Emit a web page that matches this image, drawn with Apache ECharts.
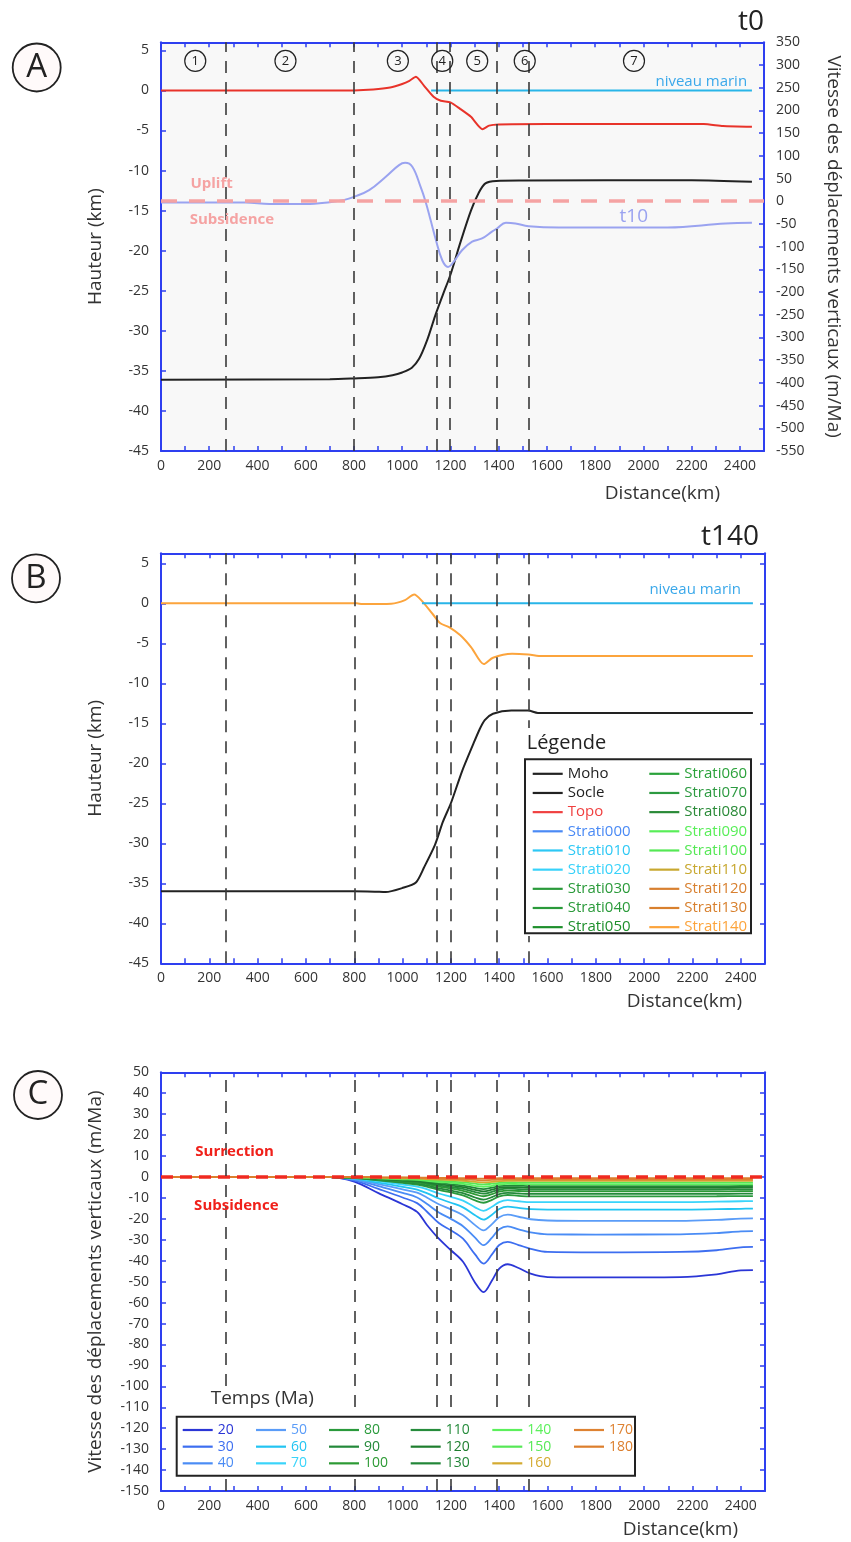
<!DOCTYPE html>
<html><head><meta charset="utf-8">
<script src="https://cdn.jsdelivr.net/npm/echarts@6/dist/echarts.min.js"></script>
<style>html,body{margin:0;padding:0;background:#fff}#c{width:851px;height:1542px}</style>
</head><body><div id="c"></div>
<script>
// ================= DATA =================
const boundaries = [270, 800, 1143, 1198, 1390, 1523];
const zoneLabels = ['1', '2', '3', '4', '5', '6', '7'];
const zoneX = [142, 516, 982, 1166, 1311, 1508, 1961];

// Panel A (t0) - heights in km
const topoAX = [0, 800, 880, 950, 1000, 1030, 1057, 1090, 1130, 1160, 1200, 1240, 1285, 1333, 1360, 1400, 1600, 2250, 2330, 2450];
const topoAY = [0, 0, 0.1, 0.35, 0.8, 1.2, 1.7, 0.6, -0.8, -1.3, -1.5, -2.3, -3.3, -4.85, -4.4, -4.25, -4.2, -4.2, -4.45, -4.55];
const mohoAX = [0, 700, 800, 900, 960, 1000, 1040, 1070, 1103, 1137, 1170, 1200, 1241, 1285, 1317, 1345, 1390, 1500, 2200, 2450];
const mohoAY = [-36.1, -36.05, -35.95, -35.8, -35.55, -35.2, -34.6, -33.5, -31.2, -28.1, -25.4, -23, -19, -15, -12.8, -11.6, -11.3, -11.25, -11.2, -11.4];
const seaAX = [1120, 2450];
const seaAY = [0, 0];
// Panel A - vertical velocity t10 (m/Ma, right axis)
const t10X = [0, 350, 450, 600, 700, 760, 800, 863, 932, 987, 1012, 1042, 1076, 1097, 1118, 1138, 1166, 1190, 1214, 1248, 1290, 1331, 1372, 1393, 1430, 1469, 1524, 1650, 2100, 2340, 2450];
const t10Y = [-3, -3, -6, -6, -2, 3, 9.7, 24.5, 54, 79.6, 84.6, 76, 32, -1, -42, -82, -130, -144.6, -133, -108, -89, -82, -67, -60, -47.5, -49, -55, -58, -57.7, -49, -47.6];

// Panel B (t140)
const strati140X = [0, 810, 833, 953, 1010, 1048, 1077, 1126, 1156, 1194, 1239, 1284, 1336, 1374, 1453, 1521, 1577, 2450];
const strati140Y = [0, 0, -0.1, -0.05, 0.4, 1.1, 0.4, -1.4, -2.5, -3.0, -4.0, -5.5, -7.6, -6.8, -6.3, -6.4, -6.6, -6.6];
const mohoBX = [0, 795, 885, 930, 998, 1055, 1089, 1134, 1167, 1201, 1246, 1291, 1318, 1340, 1374, 1450, 1520, 1560, 2450];
const mohoBY = [-36, -36, -36.05, -36.1, -35.6, -34.9, -33, -30.2, -27.3, -24.9, -21, -17.7, -15.8, -14.6, -13.8, -13.4, -13.4, -13.7, -13.7];
const seaBX = [1080, 2450];
const seaBY = [0, 0];
const legendBNames1 = ['Moho', 'Socle', 'Topo', 'Strati000', 'Strati010', 'Strati020', 'Strati030', 'Strati040', 'Strati050'];
const legendBColors1 = ['#222222', '#222222', '#f04040', '#4a8af5', '#2dc8f5', '#38d2fa', '#2a9a3a', '#2a9a3a', '#1e8f2c'];
const legendBNames2 = ['Strati060', 'Strati070', 'Strati080', 'Strati090', 'Strati100', 'Strati110', 'Strati120', 'Strati130', 'Strati140'];
const legendBColors2 = ['#2aa23a', '#2c9a40', '#2a8a38', '#58ee58', '#55e855', '#c8a830', '#d88030', '#d8802e', '#fca43c'];

// Panel C - vertical velocities (m/Ma) per time (Ma)
const velX = [0, 700, 800, 900, 1000, 1060, 1100, 1150, 1200, 1250, 1300, 1335, 1370, 1400, 1435, 1480, 1530, 1600, 1800, 2150, 2300, 2400, 2450];
const v20  = [0, 0, -2.2, -7.7, -13, -16.7, -22.8, -29.5, -35, -40.5, -50.5, -55, -49.5, -43.8, -41.7, -43.5, -46.2, -47.8, -48, -47.8, -46.5, -44.6, -44.5];
const v30  = [0, 0, -1.7, -5.7, -9.8, -12.5, -16.5, -22, -25.5, -29.5, -37, -41.4, -37, -32.5, -31, -32.5, -34.3, -35.8, -36, -35.8, -35, -33.6, -33.4];
const v40  = [0, 0, -1.3, -4.4, -7.6, -9.8, -12.8, -17, -20, -23.5, -29, -32.6, -29, -25, -23.6, -25, -26.5, -27.4, -27.5, -27.4, -26.8, -26, -25.9];
const v50  = [0, 0, -1, -3.4, -5.9, -7.5, -9.8, -13, -15.5, -18.3, -23, -25.5, -22.5, -19.2, -18, -19, -20.2, -20.8, -21, -21, -20.5, -19.9, -19.8];
const v60  = [0, 0, -0.8, -2.7, -4.7, -6, -7.7, -10.3, -12.3, -14.5, -18.3, -20.4, -18, -15.3, -14.2, -14.8, -15.4, -15.6, -15.6, -15.6, -15.4, -15.2, -15.1];
const v70  = [0, 0, -0.6, -2, -3.6, -4.6, -5.8, -7.9, -9.5, -11.3, -14.5, -16.2, -14.2, -12, -11.1, -11.6, -12, -12, -12, -12, -11.8, -11.6, -11.5];
const v80  = [0, 0, -0.5, -1.6, -2.8, -3.6, -4.6, -6.2, -7.4, -8.8, -11.2, -12.3, -10.9, -9.3, -8.6, -9, -9.3, -9.3, -9.3, -9.3, -9.2, -9.1, -9.1];
const v90  = [0, 0, -0.4, -1.4, -2.5, -3.2, -4, -5.4, -6.5, -7.7, -9.8, -10.8, -9.6, -8.2, -7.6, -7.9, -8.1, -8.1, -8.1, -8.1, -8.1, -8, -8];
const v100 = [0, 0, -0.35, -1.2, -2.1, -2.7, -3.4, -4.6, -5.5, -6.6, -8.3, -9.2, -8.2, -7, -6.5, -6.7, -6.9, -6.9, -6.9, -6.9, -6.9, -6.8, -6.8];
const v110 = [0, 0, -0.3, -1, -1.8, -2.3, -3, -4, -4.8, -5.7, -7.2, -8, -7.1, -6.1, -5.6, -5.8, -6, -6, -6, -6, -6, -5.9, -5.9];
const v120 = [0, 0, -0.25, -0.9, -1.6, -2, -2.6, -3.4, -4.1, -4.9, -6.2, -6.9, -6.1, -5.2, -4.9, -5, -5.2, -5.2, -5.2, -5.2, -5.2, -5.1, -5.1];
const v130 = [0, 0, -0.2, -0.75, -1.3, -1.7, -2.2, -2.9, -3.5, -4.1, -5.2, -5.8, -5.1, -4.4, -4.1, -4.2, -4.4, -4.4, -4.4, -4.4, -4.4, -4.3, -4.3];
const v140 = [0, 0, -0.15, -0.6, -1.1, -1.4, -1.8, -2.4, -2.8, -3.3, -4.2, -4.7, -4.2, -3.6, -3.3, -3.4, -3.5, -3.5, -3.5, -3.5, -3.5, -3.5, -3.5];
const v150 = [0, 0, -0.1, -0.5, -0.8, -1, -1.4, -1.8, -2.2, -2.6, -3.2, -3.6, -3.2, -2.8, -2.6, -2.7, -2.7, -2.7, -2.7, -2.7, -2.7, -2.7, -2.7];
const v160 = [0, 0, -0.1, -0.35, -0.6, -0.7, -1, -1.3, -1.5, -1.8, -2.3, -2.6, -2.3, -2, -1.8, -1.9, -1.9, -1.9, -1.9, -1.9, -1.9, -1.9, -1.9];
const v170 = [0, 0, 0, -0.2, -0.35, -0.45, -0.6, -0.8, -1, -1.1, -1.4, -1.6, -1.4, -1.25, -1.15, -1.2, -1.2, -1.2, -1.2, -1.2, -1.2, -1.2, -1.2];
const v180 = [0, 0, 0, -0.1, -0.2, -0.25, -0.3, -0.4, -0.5, -0.55, -0.7, -0.8, -0.7, -0.62, -0.58, -0.6, -0.6, -0.6, -0.6, -0.6, -0.6, -0.6, -0.6];
const timeLabels = ['20', '30', '40', '50', '60', '70', '80', '90', '100', '110', '120', '130', '140', '150', '160', '170', '180'];
const timeValues = [v20, v30, v40, v50, v60, v70, v80, v90, v100, v110, v120, v130, v140, v150, v160, v170, v180];
const timeColors = ['#2b36d6', '#3d6ef0', '#4a8cf5', '#5a9cf8', '#22c4f2', '#3ad4fa', '#2a9a3c', '#23893a', '#2c9a34', '#268c3c', '#1e7e2e', '#228638', '#5cf05c', '#56e856', '#d4aa30', '#de8232', '#dc7e2c'];

// ================= STYLE / BUILD =================
const BLUE = '#2e3ff0';
const TXT = '#333333';
const FONT = "'Open Sans', 'Liberation Sans', sans-serif";
const pairs = (xs, ys) => xs.map((x, i) => [x, ys[i]]);

function xAxesFor(gi, nameGap, namePad) {
  const base = {
    gridIndex: gi, type: 'value', min: 0, max: 2500, interval: 100,
    axisLine: { show: true, onZero: false, lineStyle: { color: BLUE, width: 2 } },
    axisTick: { show: true, inside: true, length: 5, lineStyle: { color: BLUE, width: 1.5 } },
    splitLine: { show: false }
  };
  return [
    Object.assign({}, base, {
      position: 'bottom',
      axisLabel: { show: true, margin: 8, color: TXT, fontSize: 14, fontFamily: FONT,
        formatter: v => (v % 200 === 0 && v <= 2400) ? String(v) : '' },
      name: 'Distance(km)', nameLocation: 'end', nameGap: nameGap,
      nameTextStyle: { color: TXT, fontSize: 19, fontFamily: FONT, align: 'right', verticalAlign: 'top', padding: [namePad, 0, 0, 0] }
    }),
    Object.assign({}, base, { position: 'top', axisLabel: { show: false } })
  ];
}
function yAxisFor(gi, pos, min, max, interval, showLabels, name, nameGap, nameRotate) {
  const ax = {
    gridIndex: gi, type: 'value', position: pos, min: min, max: max, interval: interval,
    axisLine: { show: true, onZero: false, lineStyle: { color: BLUE, width: 2 } },
    axisTick: { show: true, inside: true, length: 5, lineStyle: { color: BLUE, width: 1.5 } },
    splitLine: { show: false },
    axisLabel: { show: showLabels, margin: 12, color: TXT, fontSize: 14, fontFamily: FONT,
      formatter: v => (Math.abs(Math.round(v / interval) * interval - v) < 1e-9) ? String(v) : '' }
  };
  if (name) {
    ax.name = name; ax.nameLocation = 'middle'; ax.nameGap = nameGap;
    if (nameRotate !== undefined) ax.nameRotate = nameRotate;
    ax.nameTextStyle = { color: TXT, fontSize: 19, fontFamily: FONT };
  }
  return ax;
}
const dashV = (xs) => ({
  silent: true, symbol: ['none', 'none'], label: { show: false },
  lineStyle: { color: '#3a3a3a', width: 1.6, type: [12, 9] },
  data: xs.map(x => ({ xAxis: x }))
});
const textMark = (name, coord, color, size, bold, pos) => ({
  name: name, coord: coord, symbol: 'circle', symbolSize: 1,
  itemStyle: { color: 'rgba(0,0,0,0)' },
  label: { show: true, position: pos, distance: 0, formatter: '{b}', color: color,
    fontSize: size, fontWeight: bold ? 'bold' : 'normal', fontFamily: FONT }
});
const lineBase = { type: 'line', showSymbol: false, symbol: 'none', silent: true, animation: false, emphasis: { disabled: true } };

const series = [];
// ---- Panel A ----
series.push(Object.assign({}, lineBase, {
  name: 'Moho (t0)', xAxisIndex: 0, yAxisIndex: 0, smooth: 0.3,
  data: pairs(mohoAX, mohoAY), lineStyle: { color: '#222', width: 2 }, itemStyle: { color: '#222' },
  markLine: dashV(boundaries),
  markPoint: {
    silent: true,
    data: zoneLabels.map((l, i) => ({
      name: l, coord: [zoneX[i], 3.67], symbol: 'circle', symbolSize: 21,
      itemStyle: { color: 'rgba(255,255,255,0)', borderColor: '#222', borderWidth: 1.2 },
      label: { show: true, position: 'inside', formatter: '{b}', color: '#222', fontSize: 13, fontFamily: FONT }
    })).concat([textMark('niveau marin', [2432, 1.1], '#3aa8ea', 15, false, 'left')])
  }
}));
series.push(Object.assign({}, lineBase, {
  name: 'Niveau marin (t0)', xAxisIndex: 0, yAxisIndex: 0,
  data: pairs(seaAX, seaAY), lineStyle: { color: '#29b5e8', width: 2 }, itemStyle: { color: '#29b5e8' }
}));
series.push(Object.assign({}, lineBase, {
  name: 'Topo (t0)', xAxisIndex: 0, yAxisIndex: 0, smooth: 0.2,
  data: pairs(topoAX, topoAY), lineStyle: { color: '#e8332a', width: 2 }, itemStyle: { color: '#e8332a' }
}));
series.push(Object.assign({}, lineBase, {
  name: 't10', xAxisIndex: 0, yAxisIndex: 1, smooth: 0.4,
  data: pairs(t10X, t10Y), lineStyle: { color: '#9aa3f0', width: 2 }, itemStyle: { color: '#9aa3f0' },
  markLine: { silent: true, symbol: ['none', 'none'], label: { show: false },
    lineStyle: { color: '#f5a3a3', width: 3.5, type: [16, 12] }, data: [{ yAxis: 0 }] },
  markPoint: { silent: true, data: [
    textMark('Uplift', [120, 37.7], '#f5a3a3', 15, true, 'right'),
    textMark('Subsidence', [117, -41.6], '#f5a3a3', 15, true, 'right'),
    textMark('t10', [1899, -34.4], '#9aa3f0', 19, false, 'right')
  ] }
}));
// ---- Panel B ----
const allBNames = legendBNames1.concat(legendBNames2);
const allBColors = legendBColors1.concat(legendBColors2);
allBNames.forEach((n, i) => {
  let data = [];
  if (n === 'Moho') data = pairs(mohoBX, mohoBY);
  if (n === 'Strati140') data = pairs(strati140X, strati140Y);
  const s = Object.assign({}, lineBase, {
    name: n, xAxisIndex: 2, yAxisIndex: 2, smooth: 0.25, data: data,
    lineStyle: { color: allBColors[i], width: 2 }, itemStyle: { color: allBColors[i] }
  });
  if (n === 'Moho') {
    s.markLine = dashV(boundaries);
    s.markPoint = { silent: true, data: [textMark('niveau marin', [2403, 1.66], '#3aa8ea', 15, false, 'left')] };
  }
  series.push(s);
});
series.push(Object.assign({}, lineBase, {
  name: 'Niveau marin (t140)', xAxisIndex: 2, yAxisIndex: 2,
  data: pairs(seaBX, seaBY), lineStyle: { color: '#29b5e8', width: 2 }, itemStyle: { color: '#29b5e8' }
}));
// ---- Panel C ----
timeLabels.forEach((n, i) => {
  const s = Object.assign({}, lineBase, {
    name: n, xAxisIndex: 4, yAxisIndex: 4, smooth: 0.35,
    data: pairs(velX, timeValues[i]),
    lineStyle: { color: timeColors[i], width: 1.8 }, itemStyle: { color: timeColors[i] }
  });
  if (i === timeLabels.length - 1) {
    s.markLine = {
      silent: true, symbol: ['none', 'none'], label: { show: false },
      data: [
        { yAxis: 0, lineStyle: { color: '#f02a20', width: 3.5, type: [12, 7] } }
      ].concat(boundaries.map(x => ({ xAxis: x, lineStyle: { color: '#3a3a3a', width: 1.6, type: [12, 9] } })))
    };
    s.markPoint = { silent: true, data: [
      textMark('Surrection', [140, 11.9], '#f0201a', 15, true, 'right'),
      textMark('Subsidence', [135, -13.5], '#f0201a', 15, true, 'right')
    ] };
  }
  series.push(s);
});

function legendCol(names, colors, left, top, fontSize, gap) {
  return {
    show: true, orient: 'vertical', left: left, top: top, padding: 0, itemGap: gap,
    itemWidth: 30, itemHeight: 2.2, icon: 'rect', selectedMode: false, z: 60,
    textStyle: { fontFamily: FONT, fontSize: fontSize, lineHeight: 14 },
    data: names.map((n, i) => ({ name: n, icon: 'rect', itemStyle: { color: colors[i] }, textStyle: { color: colors[i] } }))
  };
}
const legends = [
  legendCol(legendBNames1, legendBColors1, 532.7, 766.3, 15, 4.17),
  legendCol(legendBNames2, legendBColors2, 649.3, 766.3, 15, 4.17)
];
const cLefts = [182.7, 256, 329, 410.7, 492.3, 574];
for (let c = 0; c < 6; c++) {
  const names = timeLabels.slice(c * 3, c * 3 + 3);
  const cols = timeColors.slice(c * 3, c * 3 + 3);
  legends.push(legendCol(names, cols, cLefts[c], 1423, 14, 2.67));
}

function panelLetter(letter, cx, cy) {
  return [
    { type: 'circle', z: 50, shape: { cx: cx, cy: cy, r: 24 }, style: { fill: '#fffafa', stroke: '#222', lineWidth: 1.8 } },
    { type: 'text', z: 51, x: cx, y: cy, style: { text: letter, align: 'center', verticalAlign: 'middle', textAlign: 'center', textVerticalAlign: 'middle', fontSize: 33, fontFamily: FONT, fill: '#222' } }
  ];
}
const graphics = [].concat(
  panelLetter('A', 36.7, 67.5),
  panelLetter('B', 36, 578.3),
  panelLetter('C', 38, 1095),
  [
    { type: 'text', z: 51, x: 764, y: 22, style: { text: 't0', align: 'right', verticalAlign: 'middle', textAlign: 'right', textVerticalAlign: 'middle', fontSize: 28, fontFamily: FONT, fill: '#222' } },
    { type: 'text', z: 51, x: 759, y: 537, style: { text: 't140', align: 'right', verticalAlign: 'middle', textAlign: 'right', textVerticalAlign: 'middle', fontSize: 28, fontFamily: FONT, fill: '#222' } },
    // legend B
    { type: 'rect', z: 48, shape: { x: 521, y: 728, width: 232, height: 208 }, style: { fill: '#ffffff', stroke: null } },
    { type: 'rect', z: 50, shape: { x: 525, y: 759.3, width: 226, height: 174 }, style: { fill: '#ffffff', stroke: '#222', lineWidth: 2 } },
    { type: 'text', z: 51, x: 526.7, y: 743.3, style: { text: 'Légende', align: 'left', verticalAlign: 'middle', textAlign: 'left', textVerticalAlign: 'middle', fontSize: 20, fontFamily: FONT, fill: '#222' } },
    // legend C
    { type: 'rect', z: 48, shape: { x: 206, y: 1387, width: 112, height: 23 }, style: { fill: '#ffffff', stroke: null } },
    { type: 'rect', z: 50, shape: { x: 176.7, y: 1416.7, width: 458.3, height: 59 }, style: { fill: '#ffffff', stroke: '#222', lineWidth: 2 } },
    { type: 'text', z: 51, x: 210.7, y: 1398.3, style: { text: 'Temps (Ma)', align: 'left', verticalAlign: 'middle', textAlign: 'left', textVerticalAlign: 'middle', fontSize: 19, fontFamily: FONT, fill: '#333' } }
  ]
);

const option = {
  animation: false,
  backgroundColor: '#ffffff',
  textStyle: { fontFamily: FONT },
  grid: [
    { left: 161, top: 42.3, width: 605, height: 408.7, show: true, backgroundColor: '#f8f8f8', borderWidth: 0 },
    { left: 161, top: 553.3, width: 604, height: 410, show: false },
    { left: 161, top: 1072.3, width: 604, height: 418.7, show: false }
  ],
  xAxis: [].concat(xAxesFor(0, -44, 33), xAxesFor(1, -23, 29), xAxesFor(2, -27, 29)),
  yAxis: [
    yAxisFor(0, 'left', -45, 6, 5, true, 'Hauteur (km)', 56),
    yAxisFor(0, 'right', -550, 350, 50, true, 'Vitesse des déplacements verticaux (m/Ma)', 60, -90),
    yAxisFor(1, 'left', -45, 6.25, 5, true, 'Hauteur (km)', 56),
    yAxisFor(1, 'right', -45, 6.25, 5, false),
    yAxisFor(2, 'left', -150, 50, 10, true, 'Vitesse des déplacements verticaux (m/Ma)', 56),
    yAxisFor(2, 'right', -150, 50, 10, false)
  ],
  legend: legends,
  series: series,
  graphic: graphics
};
const chart = echarts.init(document.getElementById('c'), null, { renderer: 'canvas' });
chart.setOption(option);
</script>
</body></html>
